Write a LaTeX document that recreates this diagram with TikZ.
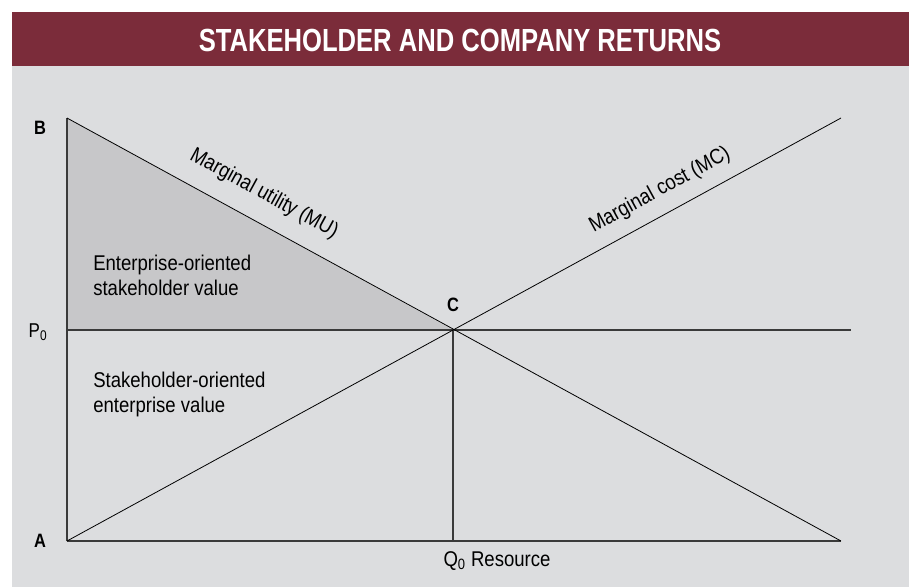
\documentclass[tikz,border=0pt]{standalone}
\usepackage{fontspec}
\setmainfont{Liberation Sans}[FakeStretch=0.87]
\newfontfamily\titlefont{Liberation Sans}[FakeStretch=0.8]
\newfontfamily\labfont{Liberation Sans}[FakeStretch=0.85]
\definecolor{barred}{HTML}{7B2C3A}
\definecolor{panel}{HTML}{DCDDDF}
\definecolor{tgray}{HTML}{C7C7C9}
\definecolor{lineg}{HTML}{3A3A3A}
\begin{document}
\begin{tikzpicture}[x=0.75pt,y=-0.75pt,
  body/.style={font=\fontsize{16}{18.5}\selectfont, text=black, inner sep=0pt},
  ptlabel/.style={font=\labfont\bfseries\fontsize{14.5}{16}\selectfont, inner sep=0pt},
  curve/.style={draw=black, line width=0.6pt},
  axis/.style={draw=lineg, line width=0.8pt}]
\useasboundingbox (0,0) rectangle (909,587);
\fill[white] (0,0) rectangle (909,587);
\fill[barred] (12,12) rectangle (909,66);
\fill[panel] (12,66) rectangle (909,587);
\node[font=\titlefont\bfseries\fontsize{24}{28}\selectfont, text=white] (title) at (460,40) {STAKEHOLDER AND COMPANY RETURNS};

\coordinate (B) at (67,118);
\coordinate (A) at (67,541);
\coordinate (P) at (67,330);
\coordinate (C) at (453,330);
\coordinate (Q) at (453,541);
\coordinate (MUend) at (841,541);
\coordinate (MCend) at (841,118);
\coordinate (Pend) at (851,330);

\fill[tgray] (B) -- (C) -- (P) -- cycle;

\draw[axis] (B) -- (A);
\draw[axis] (A) -- (MUend);
\draw[axis] (P) -- (Pend);
\draw[axis] (C) -- (Q);
\draw[curve] (B) -- (MUend);
\draw[curve] (A) -- (MCend);

\node[ptlabel] (lB) at (40,128) {B};
\node[ptlabel] (lA) at (40,541) {A};
\node[ptlabel] (lC) at (453,305) {C};
\node[font=\labfont\fontsize{15}{16}\selectfont, inner sep=0pt] (lP) at (38,332) {P\textsubscript{0}};

\node[body, rotate=-28.65] (mu) at (264,194) {Marginal utility (MU)};
\node[body, rotate=28.65] (mc) at (660,190) {Marginal cost (MC)};

\node[body, anchor=north west, align=left] (eosv) at (93,255) {Enterprise-oriented\\stakeholder value};
\node[body, anchor=north west, align=left] (soev) at (93,372) {Stakeholder-oriented\\enterprise value};
\node[body] (res) at (497,561) {Q\textsubscript{0} Resource};
\end{tikzpicture}
\end{document}
